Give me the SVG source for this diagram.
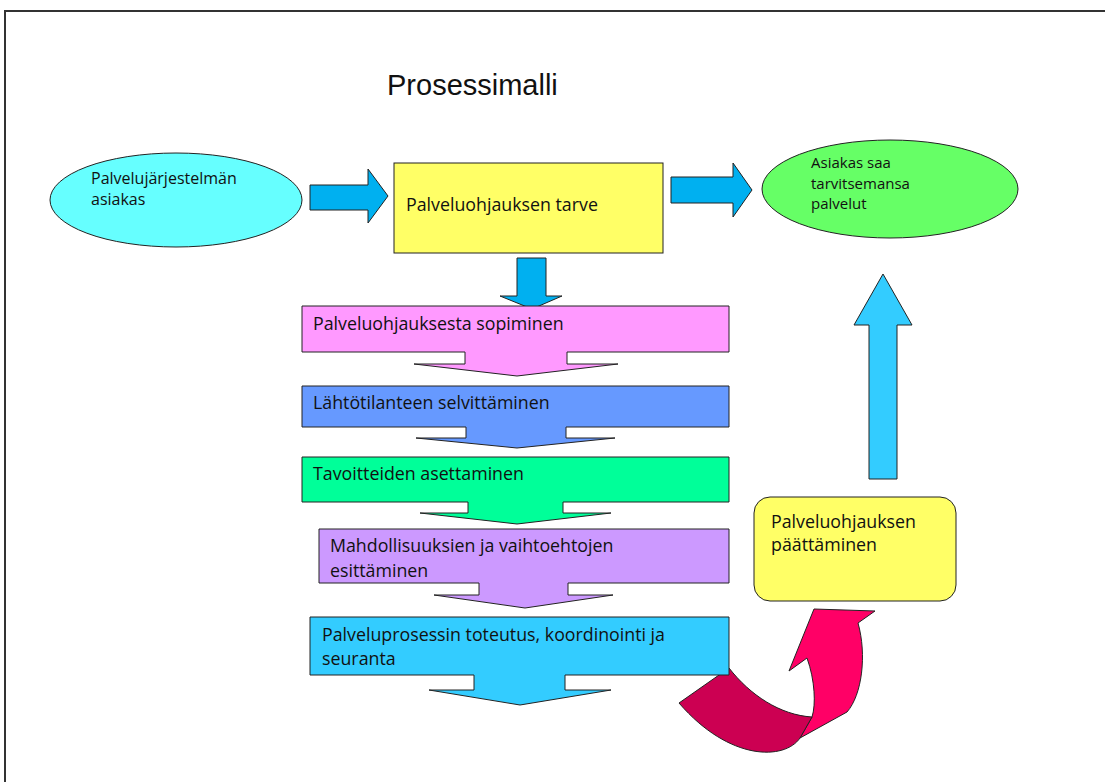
<svg xmlns="http://www.w3.org/2000/svg" width="1105" height="782" viewBox="0 0 1105 782">
<style>
.t{font-family:"Open Sans","Noto Sans",sans-serif;fill:#111;}
.s15{font-size:15px;}
.s16{font-size:16px;}
.s17{font-size:17.8px;}
.shape{stroke:#222;stroke-width:1;}
.arr{fill:#00B0F0;stroke:#222;stroke-width:1;}
</style>
<rect width="1105" height="782" fill="#fff"/>
<path d="M5,782 V11 H1105" fill="none" stroke="#333" stroke-width="2"/>
<text x="387" y="95" font-family="Liberation Sans, Arial, sans-serif" font-size="29" fill="#111">Prosessimalli</text>

<g id="connectors">
  <polygon class="arr" points="310,185 368,185 368,169 388,196 368,223 368,210 310,210"/>
  <polygon class="arr" points="671,177 733,177 733,163 752,190 733,217 733,203 671,203"/>
  <polygon class="arr" points="517,258 546,258 546,296 562,296 532,309 500,296 517,296"/>
  <polygon class="shape" fill="#33CCFF" points="869,479 869,325 854,325 883,274 912,325 897,325 897,479"/>
  <path class="shape" fill="#FF0066" d="M800,738 L847,712 C862,695 867,655 858,623 L875,611 L814,609 L789,671 L807,658 C815,680 816,705 812,717 Z"/>
  <path class="shape" fill="#CC0052" d="M729,668 C750,695 780,715 812,717 L800,738 C785,760 730,762 679,703 Z"/>
</g>

<g id="n-asiakas">
  <ellipse class="shape" cx="176" cy="200" rx="126" ry="47" fill="#66FFFF"/>
  <text class="t s16" x="91" y="184">Palvelujärjestelmän</text>
  <text class="t s16" x="91" y="205">asiakas</text>
</g>

<g id="n-tarve">
  <rect class="shape" x="394" y="163" width="269" height="90" fill="#FFFF66"/>
  <text class="t s17" x="406" y="211">Palveluohjauksen tarve</text>
</g>

<g id="n-palvelut">
  <ellipse class="shape" cx="890" cy="189" rx="128" ry="49" fill="#66FF66"/>
  <text class="t s15" x="811" y="168">Asiakas saa</text>
  <text class="t s15" x="811" y="189">tarvitsemansa</text>
  <text class="t s15" x="811" y="209">palvelut</text>
</g>

<g id="n-sopiminen">
  <path class="shape" fill="#FF99FF" d="M302,306 H729 V352 H567 V364 H618 L517,376 L414,364 H465 V352 H302 Z"/>
  <text class="t s17" x="313" y="330">Palveluohjauksesta sopiminen</text>
</g>

<g id="n-lahtotilanne">
  <path class="shape" fill="#6699FF" d="M302,386 H729 V427 H566 V438 H615 L517,448 L416,438 H466 V427 H302 Z"/>
  <text class="t s17" x="313" y="409">Lähtötilanteen selvittäminen</text>
</g>

<g id="n-tavoitteet">
  <path class="shape" fill="#00FF99" d="M302,457 H729 V502 H563 V513 H611 L517,524 L420,513 H468 V502 H302 Z"/>
  <text class="t s17" x="313" y="480">Tavoitteiden asettaminen</text>
</g>

<g id="n-mahdollisuudet">
  <path class="shape" fill="#CC99FF" d="M319,529 H729 V583 H568 V595 H613 L525,608 L434,595 H479 V583 H319 Z"/>
  <text class="t s17" x="330" y="552">Mahdollisuuksien ja vaihtoehtojen</text>
  <text class="t s17" x="330" y="577">esittäminen</text>
</g>

<g id="n-toteutus">
  <path class="shape" fill="#33CCFF" d="M310,617 H729 V675 H565 V690 H611 L520,705 L429,690 H474 V675 H310 Z"/>
  <text class="t s17" x="322" y="641">Palveluprosessin toteutus, koordinointi ja</text>
  <text class="t s17" x="322" y="665">seuranta</text>
</g>

<g id="n-paattaminen">
  <rect class="shape" x="754" y="497" width="202" height="104" rx="16" fill="#FFFF66"/>
  <text class="t s17" x="771" y="528">Palveluohjauksen</text>
  <text class="t s17" x="771" y="551">päättäminen</text>
</g>
</svg>
